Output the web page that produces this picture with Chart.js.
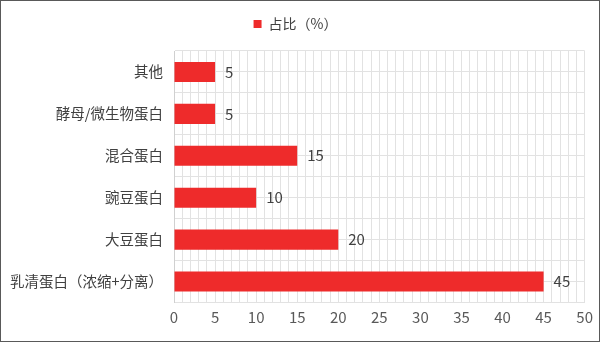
<!DOCTYPE html>
<html>
<head>
<meta charset="utf-8">
<script src="https://cdn.jsdelivr.net/npm/chart.js@4/dist/chart.umd.min.js"></script>
<style>
    html, body { margin: 0; padding: 0; background: #fff; }
    #wrap {
        width: 600px;
        height: 342px;
        box-sizing: border-box;
        border: 1px solid #595959;
        position: relative;
    }
</style>
</head>
<body>
<div id="wrap"><canvas id="share-chart"></canvas></div>
<script>
// Chart data
const categories = ['其他', '酵母/微生物蛋白', '混合蛋白', '豌豆蛋白', '大豆蛋白', '乳清蛋白（浓缩+分离）'];
const shareValues = [5, 5, 15, 10, 20, 45];
const seriesName = '占比（%）';
const xMin = 0;
const xMax = 50;

const fontFamily = '"Noto Sans CJK SC", "Microsoft YaHei", sans-serif';

// Draw value labels to the right of each bar
const valueLabels = {
    id: 'valueLabels',
    afterDatasetsDraw(chart) {
        const ctx = chart.ctx;
        const meta = chart.getDatasetMeta(0);
        ctx.save();
        ctx.font = '15px ' + fontFamily;
        ctx.fillStyle = '#404040';
        ctx.textAlign = 'left';
        ctx.textBaseline = 'middle';
        meta.data.forEach((bar, i) => {
            ctx.fillText(String(shareValues[i]), bar.x + 10, bar.y);
        });
        ctx.restore();
    }
};

// Extra space below the legend
const legendSpacing = {
    id: 'legendSpacing',
    beforeInit(chart) {
        const origFit = chart.legend.fit;
        chart.legend.fit = function () {
            origFit.bind(chart.legend)();
            this.height += 10;
        };
    }
};

const ctx = document.getElementById('share-chart');
new Chart(ctx, {
    type: 'bar',
    data: {
        labels: categories,
        datasets: [{
            label: seriesName,
            data: shareValues,
            backgroundColor: '#EE2B2B',
            borderWidth: 0,
            barPercentage: 0.478,
            categoryPercentage: 1,
            yAxisID: 'y'
        }]
    },
    options: {
        indexAxis: 'y',
        responsive: true,
        maintainAspectRatio: false,
        animation: false,
        layout: {
            padding: { left: 0, right: 9, top: 0, bottom: 8.5 }
        },
        plugins: {
            legend: {
                position: 'top',
                labels: {
                    boxWidth: 8,
                    boxHeight: 8,
                    color: '#404040',
                    font: { family: fontFamily, size: 14 },
                    padding: 16
                }
            },
            tooltip: { enabled: false }
        },
        scales: {
            x: {
                min: xMin,
                max: xMax,
                ticks: {
                    stepSize: 1,
                    autoSkip: false,
                    maxRotation: 0,
                    color: '#595959',
                    font: { family: fontFamily, size: 15 },
                    padding: 6,
                    callback: v => (v % 5 === 0 ? v : '')
                },
                grid: { color: '#e2e2e2', drawTicks: false },
                border: { display: false }
            },
            y: {
                afterFit(scale) {
                    scale.width = 173;
                },
                ticks: {
                    color: '#404040',
                    font: { family: fontFamily, size: 14.5 },
                    padding: 11
                },
                grid: { color: '#e2e2e2', offset: true, drawTicks: false },
                border: { color: '#d0d0d0' }
            },
            yMid: {
                type: 'category',
                labels: categories,
                position: 'right',
                offset: true,
                ticks: { display: false },
                grid: { color: '#e2e2e2', offset: false, drawTicks: false },
                border: { display: false }
            }
        }
    },
    plugins: [valueLabels, legendSpacing]
});
</script>
</body>
</html>
